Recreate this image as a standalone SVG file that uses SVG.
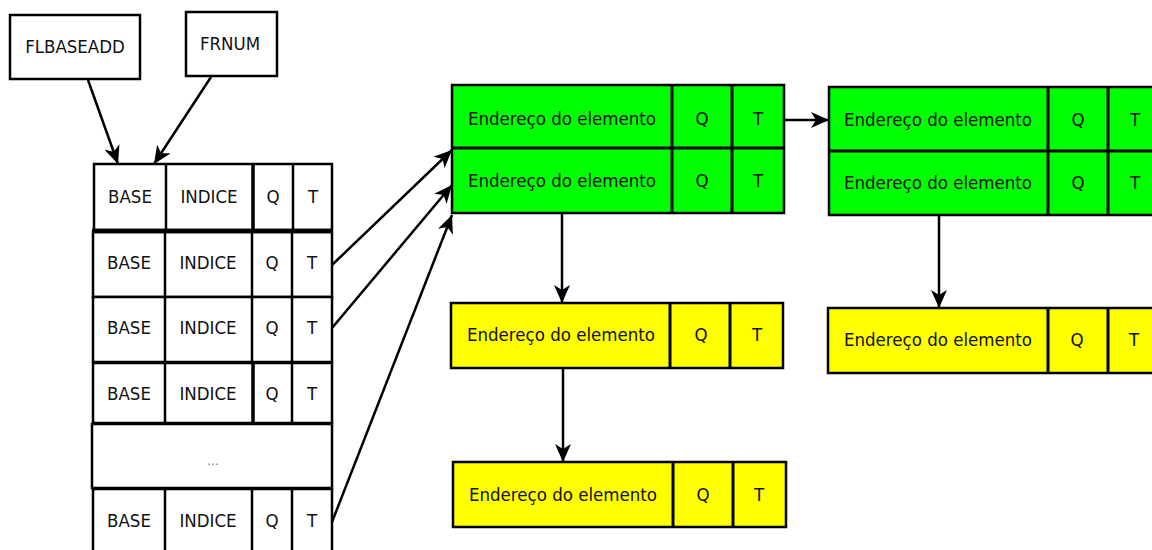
<svg xmlns="http://www.w3.org/2000/svg" width="1152" height="550" viewBox="0 0 1152 550">
  <style>
    .box { fill: #ffffff; stroke: #000000; stroke-width: 2.5; }
    .green { fill: #00ff00; stroke: #000000; stroke-width: 2.5; }
    .yellow { fill: #ffff00; stroke: #000000; stroke-width: 2.5; }
    .div { stroke: #000000; stroke-width: 2.5; }
    .lbl { font-family: "DejaVu Sans Condensed", "DejaVu Sans", sans-serif; font-stretch: condensed; font-size: 18.5px; fill: #111111; text-anchor: middle; }
    .dots { font-family: "DejaVu Sans", sans-serif; font-size: 12px; fill: #777777; text-anchor: middle; }
    .edge { fill: none; stroke: #000000; stroke-width: 2.5; }
  </style>
  <defs>
    <marker id="arrow" markerUnits="userSpaceOnUse" markerWidth="20" markerHeight="16" refX="18" refY="8" orient="auto">
      <path d="M0,0 L18,8 L0,16 L5,8 Z" fill="#000000"/>
    </marker>
  </defs>

  <rect width="1152" height="550" fill="#ffffff"/>

  <!-- register inputs -->
  <g id="flbaseadd">
    <rect class="box" x="10" y="15" width="130" height="64"/>
    <text class="lbl" x="75" y="53">FLBASEADD</text>
  </g>
  <g id="frnum">
    <rect class="box" x="186" y="12" width="91" height="64"/>
    <text class="lbl" x="230" y="50">FRNUM</text>
  </g>

  <!-- left descriptor table -->
  <g id="row0">
    <rect class="box" x="94" y="164" width="238" height="66"/>
    <line class="div" x1="166" y1="164" x2="166" y2="230"/>
    <line class="div" x1="253" y1="164" x2="253" y2="230" style="stroke-width:3.5"/>
    <line class="div" x1="293" y1="164" x2="293" y2="230"/>
    <text class="lbl" x="130" y="203">BASE</text>
    <text class="lbl" x="209" y="203">INDICE</text>
    <text class="lbl" x="273" y="203">Q</text>
    <text class="lbl" x="313" y="203">T</text>
  </g>
  <g id="row1">
    <rect class="box" x="93" y="232" width="239" height="65"/>
    <line x1="92" y1="231" x2="333" y2="231" stroke="#000000" stroke-width="4.5"/>
    <line class="div" x1="165" y1="232" x2="165" y2="297"/>
    <line class="div" x1="252" y1="232" x2="252" y2="297"/>
    <line class="div" x1="292" y1="232" x2="292" y2="297"/>
    <text class="lbl" x="129" y="269">BASE</text>
    <text class="lbl" x="208" y="269">INDICE</text>
    <text class="lbl" x="272" y="269">Q</text>
    <text class="lbl" x="312" y="269">T</text>
  </g>
  <g id="row2">
    <rect class="box" x="93" y="297" width="239" height="65"/>
    <line class="div" x1="165" y1="297" x2="165" y2="362"/>
    <line class="div" x1="252" y1="297" x2="252" y2="362"/>
    <line class="div" x1="292" y1="297" x2="292" y2="362"/>
    <text class="lbl" x="129" y="334">BASE</text>
    <text class="lbl" x="208" y="334">INDICE</text>
    <text class="lbl" x="272" y="334">Q</text>
    <text class="lbl" x="312" y="334">T</text>
  </g>
  <g id="row3">
    <rect class="box" x="93" y="363" width="239" height="60"/>
    <line class="div" x1="165" y1="363" x2="165" y2="423"/>
    <line class="div" x1="253" y1="363" x2="253" y2="423" style="stroke-width:3.5"/>
    <line class="div" x1="292" y1="363" x2="292" y2="423"/>
    <text class="lbl" x="129" y="400">BASE</text>
    <text class="lbl" x="208" y="400">INDICE</text>
    <text class="lbl" x="272" y="400">Q</text>
    <text class="lbl" x="312" y="400">T</text>
  </g>
  <g id="row-gap">
    <rect class="box" x="92" y="424" width="240" height="64"/>
    <text class="dots" x="213" y="465">...</text>
  </g>
  <g id="row-last">
    <rect class="box" x="93" y="489" width="239" height="75"/>
    <line class="div" x1="165" y1="489" x2="165" y2="552"/>
    <line class="div" x1="252" y1="489" x2="252" y2="552"/>
    <line class="div" x1="292" y1="489" x2="292" y2="552"/>
    <text class="lbl" x="129" y="527">BASE</text>
    <text class="lbl" x="208" y="527">INDICE</text>
    <text class="lbl" x="272" y="527">Q</text>
    <text class="lbl" x="312" y="527">T</text>
  </g>

  <!-- element lists -->
  <g id="green-a">
    <rect class="green" x="452" y="85" width="332" height="128"/>
    <line class="div" x1="452" y1="148" x2="784" y2="148" style="stroke-width:3"/>
    <line class="div" x1="672" y1="85" x2="672" y2="213" style="stroke-width:3"/>
    <line class="div" x1="732" y1="85" x2="732" y2="213" style="stroke-width:3"/>
    <text class="lbl" x="562" y="125">Endereço do elemento</text>
    <text class="lbl" x="702" y="125">Q</text>
    <text class="lbl" x="758" y="125">T</text>
    <text class="lbl" x="562" y="187">Endereço do elemento</text>
    <text class="lbl" x="702" y="187">Q</text>
    <text class="lbl" x="758" y="187">T</text>
  </g>
  <g id="green-b">
    <rect class="green" x="829" y="87" width="334" height="128"/>
    <line class="div" x1="829" y1="151" x2="1163" y2="151" style="stroke-width:3"/>
    <line class="div" x1="1048" y1="87" x2="1048" y2="215" style="stroke-width:3"/>
    <line class="div" x1="1108" y1="87" x2="1108" y2="215" style="stroke-width:3"/>
    <text class="lbl" x="938" y="126">Endereço do elemento</text>
    <text class="lbl" x="1078" y="126">Q</text>
    <text class="lbl" x="1135" y="126">T</text>
    <text class="lbl" x="938" y="189">Endereço do elemento</text>
    <text class="lbl" x="1078" y="189">Q</text>
    <text class="lbl" x="1135" y="189">T</text>
  </g>
  <g id="yellow-a">
    <rect class="yellow" x="451" y="303" width="332" height="65"/>
    <line class="div" x1="670" y1="303" x2="670" y2="368" style="stroke-width:3"/>
    <line class="div" x1="730" y1="303" x2="730" y2="368" style="stroke-width:3"/>
    <text class="lbl" x="561" y="341">Endereço do elemento</text>
    <text class="lbl" x="701" y="341">Q</text>
    <text class="lbl" x="757" y="341">T</text>
  </g>
  <g id="yellow-b">
    <rect class="yellow" x="453" y="462" width="333" height="65"/>
    <line class="div" x1="673" y1="462" x2="673" y2="527" style="stroke-width:3"/>
    <line class="div" x1="733" y1="462" x2="733" y2="527" style="stroke-width:3"/>
    <text class="lbl" x="563" y="501">Endereço do elemento</text>
    <text class="lbl" x="703" y="501">Q</text>
    <text class="lbl" x="759" y="501">T</text>
  </g>
  <g id="yellow-c">
    <rect class="yellow" x="828" y="308" width="335" height="65"/>
    <line class="div" x1="1048" y1="308" x2="1048" y2="373" style="stroke-width:3"/>
    <line class="div" x1="1108" y1="308" x2="1108" y2="373" style="stroke-width:3"/>
    <text class="lbl" x="938" y="346">Endereço do elemento</text>
    <text class="lbl" x="1077" y="346">Q</text>
    <text class="lbl" x="1134" y="346">T</text>
  </g>

  <!-- connectors -->
  <g id="connectors">
    <line class="edge" x1="88" y1="80" x2="118" y2="164" marker-end="url(#arrow)"/>
    <line class="edge" x1="211" y1="77" x2="154" y2="164" marker-end="url(#arrow)"/>
    <line class="edge" x1="332" y1="265" x2="452" y2="150" marker-end="url(#arrow)"/>
    <line class="edge" x1="332" y1="328" x2="452" y2="185" marker-end="url(#arrow)"/>
    <line class="edge" x1="332" y1="522" x2="452" y2="215" marker-end="url(#arrow)"/>
    <line class="edge" x1="784" y1="120" x2="829" y2="120" marker-end="url(#arrow)"/>
    <line class="edge" x1="562" y1="213" x2="562" y2="303" marker-end="url(#arrow)"/>
    <line class="edge" x1="563" y1="368" x2="563" y2="462" marker-end="url(#arrow)"/>
    <line class="edge" x1="939" y1="215" x2="939" y2="308" marker-end="url(#arrow)"/>
  </g>
</svg>
